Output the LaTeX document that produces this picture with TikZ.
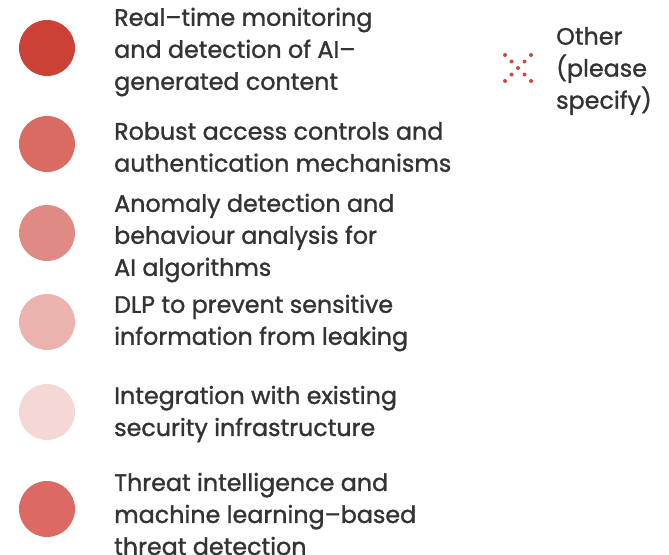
\documentclass[tikz,border=0pt]{standalone}
\usepackage{fontspec}
\setmainfont{Poppins}[FakeBold=1.2]
\definecolor{txt}{HTML}{333333}
\definecolor{cA}{HTML}{CC4136}
\definecolor{cB}{HTML}{DA6B62}
\definecolor{cC}{HTML}{E08A86}
\definecolor{cD}{HTML}{EAB3AE}
\definecolor{cE}{HTML}{F5D7D5}
\definecolor{cF}{HTML}{DC6963}
\definecolor{cX}{HTML}{D0473D}
\begin{document}
\begin{tikzpicture}[x=1pt,y=-1pt,
  dot/.style={circle,inner sep=0pt,minimum size=56pt},
  lab/.style={anchor=west,align=left,text=txt,inner sep=0pt,font=\fontsize{23.8}{32}\selectfont},
  xdot/.style={circle,fill=cX,inner sep=0pt,minimum size=4pt}]
\useasboundingbox (0,0) rectangle (669,554);
\node[dot,fill=cA] (d1) at (47,48) {};
\node[dot,fill=cB] (d2) at (47,144) {};
\node[dot,fill=cC] (d3) at (47,233) {};
\node[dot,fill=cD] (d4) at (47,322) {};
\node[dot,fill=cE] (d5) at (47,412) {};
\node[dot,fill=cF] (d6) at (47,509) {};
\node[lab] (t1) at (114,52) {Real–time monitoring\\and detection of AI–\\generated content};
\node[lab] (t2) at (114,147) {Robust access controls and\\authentication mechanisms};
\node[lab] (t3) at (114,238) {Anomaly detection and\\behaviour analysis for\\AI algorithms};
\node[lab] (t4) at (114,323) {DLP to prevent sensitive\\information from leaking};
\node[lab] (t5) at (114,414) {Integration with existing\\security infrastructure};
\node[lab] (t6) at (114,514) {Threat intelligence and\\machine learning–based\\threat detection};
\coordinate (xc) at (518,68);
\foreach \dx/\dy in {0/0,6.5/6.5,-6.5/6.5,6.5/-6.5,-6.5/-6.5,13/13,-13/13,13/-13,-13/-13}
  \node[xdot] at ([shift={(\dx,\dy)}]xc) {};
\node[lab] (t7) at (556,71) {Other\\(please\\specify)};
\end{tikzpicture}
\end{document}
